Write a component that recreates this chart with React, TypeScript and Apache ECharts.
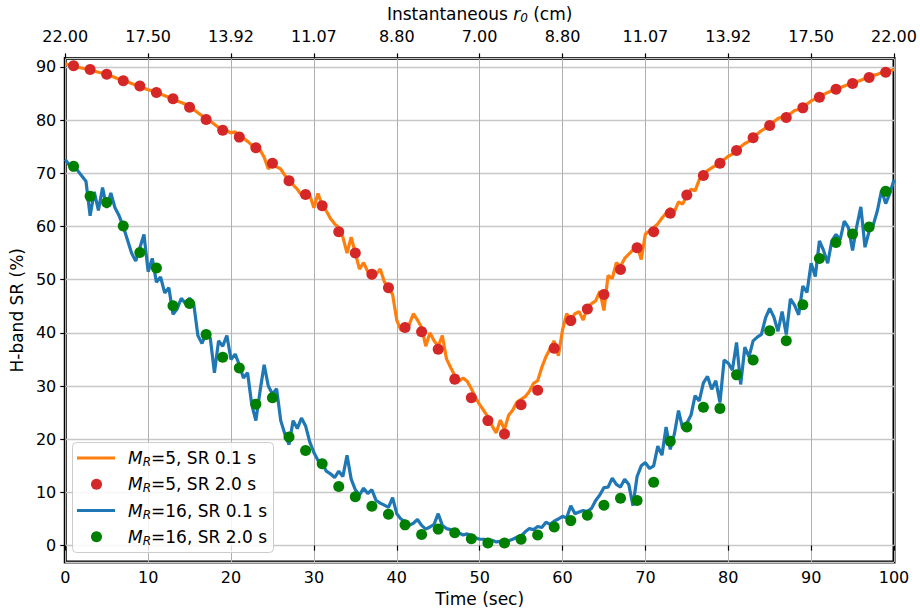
import React, { useEffect, useRef } from "react";
import * as echarts from "echarts";

// sample times (0.1 s line shown every 0.5 s; 2.0 s averages every 2 s)
const lineTimes: number[] = Array.from({ length: 201 }, (_, i) => i * 0.5);
const dotTimes: number[] = Array.from({ length: 50 }, (_, i) => 1 + i * 2);

const mr5Line: number[] = [
  90.6, 90.3, 90.1, 89.9, 89.8, 89.6, 89.4, 89.2, 89.0, 88.8,
  88.5, 88.3, 88.0, 87.7, 87.4, 87.2, 86.9, 86.6, 86.3, 86.0,
  85.7, 85.5, 85.2, 84.9, 84.6, 84.3, 84.0, 83.6, 83.3, 83.0,
  82.6, 82.0, 81.4, 80.8, 80.2, 79.8, 79.2, 78.6, 78.2, 78.0,
  77.6, 77.8, 77.0, 76.6, 76.0, 75.3, 74.8, 74.4, 73.0, 70.8,
  71.9, 71.2, 70.8, 69.6, 68.8, 67.8, 67.0, 65.9, 66.4, 65.9,
  63.5, 66.2, 64.0, 62.9, 61.5, 60.5, 59.8, 58.0, 55.0, 58.0,
  55.0, 52.0, 53.2, 51.5, 50.2, 51.0, 52.0, 49.6, 48.5, 47.2,
  42.4, 40.5, 40.6, 41.5, 43.6, 42.4, 41.0, 37.5, 40.0, 38.5,
  37.5, 39.5, 35.1, 33.5, 32.0, 30.9, 31.5, 30.9, 29.5, 27.9,
  26.5, 25.4, 24.2, 22.5, 21.2, 23.6, 21.8, 24.5, 25.5, 27.0,
  27.5, 28.0, 29.0, 30.5, 31.0, 33.5, 35.5, 37.0, 38.5, 35.7,
  40.5, 43.6, 42.5, 43.6, 44.0, 42.4, 44.8, 45.5, 46.0, 47.8,
  44.2, 50.8, 50.2, 53.2, 52.5, 54.0, 54.8, 55.6, 56.5, 53.8,
  58.6, 59.2, 59.8, 60.5, 61.6, 62.5, 63.4, 62.8, 64.6, 64.2,
  65.9, 67.0, 66.7, 68.8, 69.6, 70.5, 71.0, 71.5, 72.0, 72.6,
  73.2, 73.6, 74.4, 75.0, 75.6, 76.0, 76.7, 77.4, 78.0, 78.5,
  79.0, 79.7, 80.3, 80.6, 80.7, 81.2, 81.8, 82.0, 82.4, 83.0,
  83.6, 84.0, 84.4, 84.8, 85.2, 85.5, 85.8, 86.1, 86.4, 86.7,
  87.0, 87.2, 87.5, 87.8, 88.1, 88.4, 88.6, 88.9, 89.1, 89.3,
  89.5,
];

const mr5Dots: number[] = [
  90.2, 89.5, 88.6, 87.4, 86.4, 85.2, 84.0, 82.4, 80.1, 78.1,
  76.8, 74.8, 71.9, 68.6, 66.0, 63.9, 59.0, 55.0, 51.0, 48.5,
  41.0, 40.2, 36.9, 31.3, 27.8, 23.5, 21.0, 26.5, 29.2, 37.1,
  42.3, 44.5, 47.2, 51.9, 56.0, 59.0, 62.5, 65.9, 69.6, 71.9,
  74.3, 76.7, 79.0, 80.5, 82.3, 84.3, 85.8, 86.9, 88.0, 89.0,
];

const mr16Line: number[] = [
  72.6, 71.5, 71.8, 70.5, 69.5, 68.5, 62.0, 66.5, 63.0, 67.3,
  63.5, 66.3, 63.5, 62.0, 60.0, 57.5, 55.0, 53.5, 56.0, 58.5,
  51.5, 54.0, 49.5, 50.5, 47.5, 48.5, 43.5, 44.5, 46.5, 45.5,
  46.5, 45.5, 39.5, 38.0, 40.0, 39.0, 32.5, 38.5, 37.5, 39.5,
  35.0, 36.0, 34.0, 31.5, 32.5, 26.5, 23.5, 29.0, 34.0, 30.0,
  28.5, 29.5, 23.5, 21.0, 19.0, 23.5, 22.0, 24.0, 22.5, 19.5,
  17.5, 16.0, 15.5, 14.0, 13.5, 12.8, 14.0, 13.0, 17.0, 12.5,
  10.5, 9.5, 10.8, 9.8, 10.5, 8.5, 8.0, 7.6, 7.2, 9.0,
  6.0, 5.0, 4.5, 3.8, 4.2, 4.9, 3.8, 3.1, 3.5, 4.0,
  6.0, 3.8, 3.2, 3.0, 2.5, 2.4, 2.0, 2.2, 1.9, 1.5,
  1.2, 1.2, 0.9, 1.0, 0.7, 0.8, 0.6, 0.9, 1.2, 1.6,
  1.8, 2.6, 3.2, 3.0, 3.6, 3.4, 4.4, 4.0, 4.6, 5.0,
  5.5, 5.2, 7.5, 6.0, 6.3, 6.6, 6.4, 7.0, 8.5, 9.5,
  10.9, 11.0, 12.7, 11.5, 11.0, 12.5, 11.5, 7.5, 13.0, 15.0,
  15.6, 14.5, 15.0, 18.7, 17.0, 22.3, 18.1, 21.0, 25.4, 22.0,
  23.0, 24.5, 28.2, 27.2, 30.6, 31.8, 29.4, 31.0, 26.9, 34.9,
  34.3, 33.0, 38.2, 30.3, 37.3, 35.5, 38.5, 39.2, 39.7, 42.8,
  44.6, 43.0, 40.3, 44.0, 39.7, 46.4, 45.2, 43.4, 48.8, 47.6,
  53.1, 50.6, 57.3, 55.5, 53.1, 57.3, 58.5, 57.5, 61.0, 59.8,
  55.5, 60.0, 63.7, 56.1, 59.1, 60.3, 63.0, 66.8, 64.3, 66.2,
  68.8,
];

const mr16Dots: number[] = [
  71.3, 65.7, 64.5, 60.1, 55.1, 52.2, 45.1, 45.5, 39.7, 35.4,
  33.4, 26.6, 27.8, 20.4, 17.9, 15.4, 11.1, 9.2, 7.4, 5.9,
  3.9, 2.1, 3.1, 2.4, 1.3, 0.5, 0.5, 1.2, 2.0, 3.5,
  4.7, 5.7, 7.6, 8.9, 8.5, 11.9, 19.6, 22.3, 26.0, 25.8,
  32.1, 34.9, 40.4, 38.5, 45.3, 54.0, 57.0, 58.6, 59.9, 66.6,
];

const topTickLabels: string[] = [
  "22.00", "17.50", "13.92", "11.07", "8.80", "7.00", "8.80", "11.07", "13.92", "17.50", "22.00",
];

const seriesNames: string[] = ["M_R=5, SR 0.1 s", "M_R=5, SR 2.0 s", "M_R=16, SR 0.1 s", "M_R=16, SR 2.0 s"];
const legendTexts: string[] = [
  "{i|M}{s|R}=5, SR 0.1 s",
  "{i|M}{s|R}=5, SR 2.0 s",
  "{i|M}{s|R}=16, SR 0.1 s",
  "{i|M}{s|R}=16, SR 2.0 s",
];

const FONT = "DejaVu Sans";
const ORANGE = "#ff7f0e";
const RED = "#d62728";
const BLUE = "#1f77b4";
const GREEN = "#008000";

export default function App() {
  const ref = useRef<HTMLDivElement | null>(null);

  useEffect(() => {
    if (!ref.current) return;
    const chart = echarts.init(ref.current, undefined, { renderer: "svg" });

    const pair = (xs: number[], ys: number[]) => xs.map((x, i) => [x, ys[i]]);

    const richBase = {
      i: { fontStyle: "italic", fontSize: 17, fontFamily: FONT, lineHeight: 20, color: "#000" },
      s: { fontStyle: "italic", fontSize: 12, fontFamily: FONT, lineHeight: 12, verticalAlign: "bottom", color: "#000" },
    };

    const legendRows = [458, 484.3, 510.5, 536.8];
    const legendKinds = ["line", "dot", "line", "dot"];
    const legendColors = [ORANGE, RED, BLUE, GREEN];

    const legendGraphics: any[] = [
      {
        type: "rect",
        shape: { x: 72.5, y: 442.5, width: 201, height: 110, r: 4 },
        style: { fill: "rgba(255,255,255,0.85)", stroke: "#cccccc", lineWidth: 1 },
        z: 100,
      },
    ];
    legendRows.forEach((y, k) => {
      if (legendKinds[k] === "line") {
        legendGraphics.push({
          type: "line",
          shape: { x1: 77, y1: y, x2: 115, y2: y },
          style: { stroke: legendColors[k], lineWidth: 3 },
          z: 101,
        });
      } else {
        legendGraphics.push({
          type: "circle",
          shape: { cx: 96.5, cy: y, r: 5.5 },
          style: { fill: legendColors[k] },
          z: 101,
        });
      }
      legendGraphics.push({
        type: "text",
        x: 128,
        y: y,
        style: {
          text: legendTexts[k],
          fontSize: 17,
          fontFamily: FONT,
          fill: "#000",
          verticalAlign: "middle",
          align: "left",
          rich: richBase,
        },
        z: 101,
      });
    });

    const option: any = {
      animation: false,
      backgroundColor: "#ffffff",
      textStyle: { fontFamily: FONT },
      grid: {
        left: 64,
        right: 26,
        top: 49,
        bottom: 44,
        show: true,
        borderColor: "#000",
        borderWidth: 3,
        backgroundColor: "transparent",
      },
      xAxis: [
        {
          type: "value",
          position: "bottom",
          min: 0,
          max: 100,
          interval: 10,
          name: "Time (sec)",
          nameLocation: "middle",
          nameGap: 22,
          nameTextStyle: { fontSize: 17, fontFamily: FONT, color: "#000", verticalAlign: "top" },
          axisLine: { show: false },
          axisTick: { show: true, length: 5, lineStyle: { color: "#000", width: 1.2 } },
          axisLabel: { fontSize: 16, fontFamily: FONT, color: "#000", margin: 7 },
          splitLine: { show: true, lineStyle: { color: "#b0b0b0", width: 1 } },
        },
        {
          type: "value",
          position: "top",
          min: 0,
          max: 100,
          interval: 10,
          name: "Instantaneous {i|r}{s|0} (cm)",
          nameLocation: "middle",
          nameGap: 33,
          nameTextStyle: {
            fontSize: 17,
            fontFamily: FONT,
            color: "#000",
            rich: richBase,
          },
          axisLine: { show: false },
          axisTick: { show: true, length: 5, lineStyle: { color: "#000", width: 1.2 } },
          axisLabel: {
            fontSize: 16,
            fontFamily: FONT,
            color: "#000",
            margin: 14,
            formatter: (v: number) => topTickLabels[Math.round(v / 10)] ?? "",
          },
          splitLine: { show: false },
        },
      ],
      yAxis: {
        type: "value",
        min: -3.1,
        max: 91.6,
        splitNumber: 10,
        name: "H-band SR (%)",
        nameLocation: "middle",
        nameGap: 36,
        nameTextStyle: { fontSize: 17, fontFamily: FONT, color: "#000" },
        axisLine: { show: false },
        axisTick: { show: true, length: 5, lineStyle: { color: "#000", width: 1.2 } },
        axisLabel: {
          fontSize: 16,
          fontFamily: FONT,
          color: "#000",
          margin: 9,
          showMinLabel: false,
          showMaxLabel: false,
        },
        splitLine: { show: true, lineStyle: { color: "#c8c8c8", width: 1.3 } },
      },
      series: [
        {
          name: seriesNames[0],
          type: "line",
          data: pair(lineTimes, mr5Line),
          symbol: "none",
          lineStyle: { color: ORANGE, width: 3.2 },
          z: 2,
        },
        {
          name: seriesNames[1],
          type: "scatter",
          data: pair(dotTimes, mr5Dots),
          symbolSize: 11,
          itemStyle: { color: RED, opacity: 1 },
          z: 3,
        },
        {
          name: seriesNames[2],
          type: "line",
          data: pair(lineTimes, mr16Line),
          symbol: "none",
          lineStyle: { color: BLUE, width: 3.2 },
          z: 4,
        },
        {
          name: seriesNames[3],
          type: "scatter",
          data: pair(dotTimes, mr16Dots),
          symbolSize: 11,
          itemStyle: { color: GREEN, opacity: 1 },
          z: 5,
        },
      ],
      graphic: legendGraphics,
    };

    chart.setOption(option);
    return () => chart.dispose();
  }, []);

  return (
    <div
      ref={ref}
      style={{ position: "fixed", left: 0, top: 0, width: 920, height: 612, background: "#fff" }}
    />
  );
}
